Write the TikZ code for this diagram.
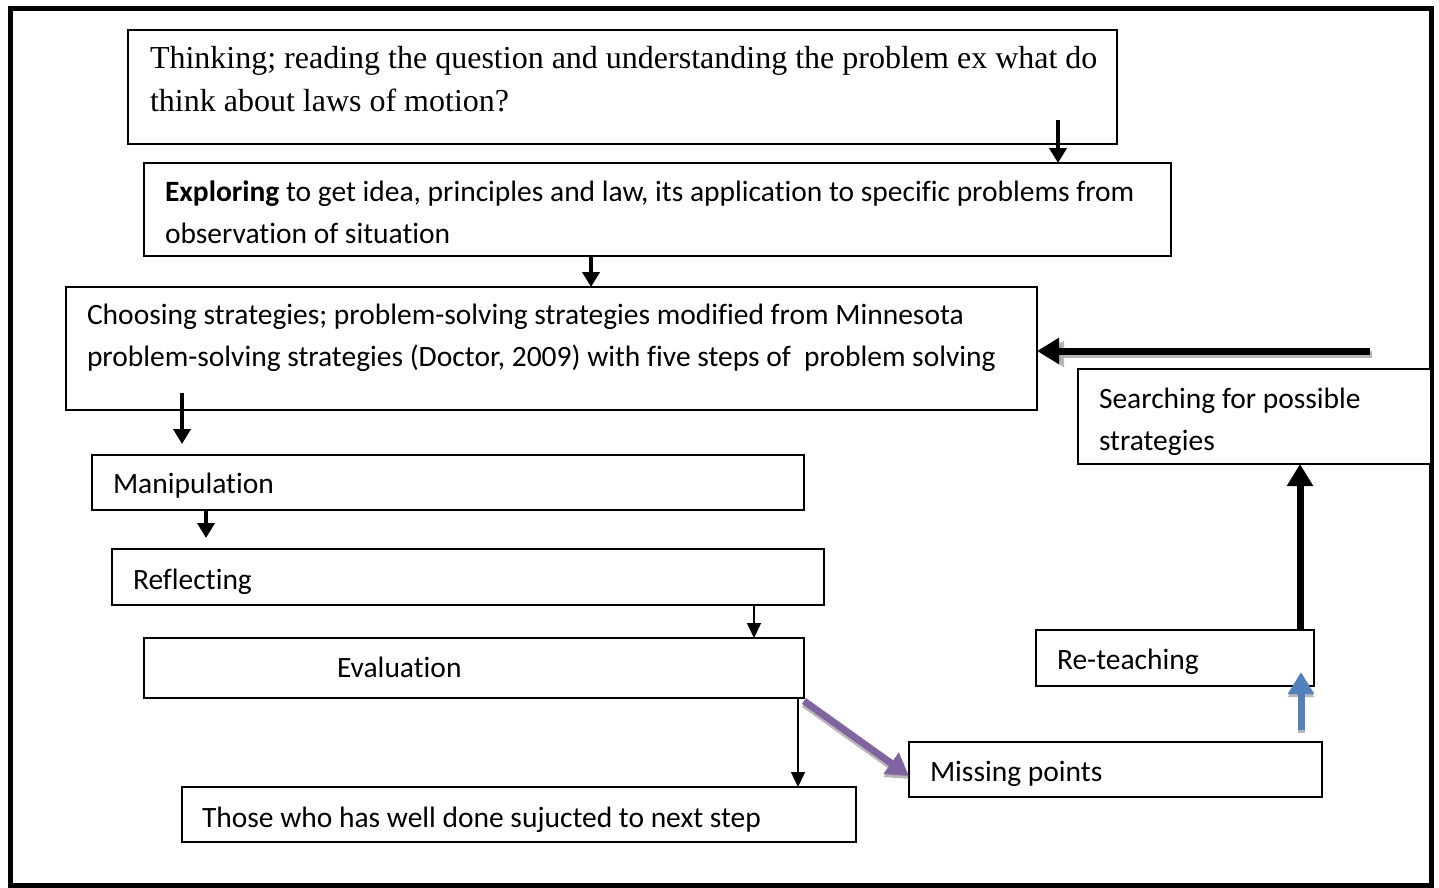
\documentclass[tikz,border=0pt]{standalone}
\usepackage{fontspec}
\setmainfont[Ligatures=NoCommon]{Carlito}
\newfontfamily\serifA{Liberation Serif}
\usetikzlibrary{arrows.meta,calc}
\definecolor{arrpurple}{HTML}{8064A2}
\definecolor{arrblue}{HTML}{4F81BD}
\definecolor{shadowgray}{HTML}{A6A6A6}
\tikzset{
  box/.style={draw=black, line width=1.6pt, inner sep=0pt, outer sep=0pt, anchor=north west, fill=white},
  txt/.style={anchor=base west, inner sep=0pt, outer sep=0pt, align=left, font=\fontsize{29.5}{42}\selectfont},
  serif/.style={anchor=base west, inner sep=0pt, outer sep=0pt, align=left, font=\serifA\fontsize{32}{43}\selectfont},
  medarrow/.style={line width=4pt, -{Triangle[width=17pt,length=15pt]}},
  thinarrow/.style={line width=1.5pt, -{Triangle[width=14pt,length=15pt]}},
  bigarrow/.style={line width=7pt, -{Triangle[width=25pt,length=22pt]}},
  shade/.style={draw=shadowgray, line width=7pt, -{Triangle[width=25pt,length=22pt]}, opacity=0.8}
}
\begin{document}
\begin{tikzpicture}[x=1pt,y=-1pt]
\useasboundingbox (0,0) rectangle (1439,888);
\fill[white] (0,0) rectangle (1439,888);
\draw[line width=5pt] (10,9) rectangle (1431,885);

% boxes
\node[box, minimum width=989pt, minimum height=114pt] (think) at (128,30) {};
\node[box, minimum width=1027pt, minimum height=93pt] (explore) at (144,163) {};
\node[box, minimum width=971pt, minimum height=123pt] (choose) at (66,287) {};
\node[box, minimum width=353pt, minimum height=95pt] (search) at (1078,369) {};
\node[box, minimum width=712pt, minimum height=55pt] (manip) at (92,455) {};
\node[box, minimum width=712pt, minimum height=56pt] (reflect) at (112,549) {};
\node[box, minimum width=660pt, minimum height=60pt] (eval) at (144,638) {};
\node[box, minimum width=278pt, minimum height=56pt] (reteach) at (1036,630) {};
\node[box, minimum width=413pt, minimum height=55pt] (missing) at (909,742) {};
\node[box, minimum width=674pt, minimum height=55pt] (those) at (182,787) {};

% texts (base anchor = baseline of last line)
\node[serif] (thinkT) at (150,112) {Thinking; reading the question and understanding the problem ex what do\\think about laws of motion?};
\node[txt] (exploreT) at (165,243) {\textbf{Exploring} to get idea, principles and law, its application to specific problems from\\observation of situation};
\node[txt] (chooseT) at (87,366) {Choosing strategies; problem-solving strategies modified from Minnesota\\problem-solving strategies (Doctor, 2009) with five steps of\ \ problem solving};
\node[txt] (searchT) at (1099,450) {Searching for possible\\strategies};
\node[txt] (manipT) at (113,493) {Manipulation};
\node[txt] (reflectT) at (133,589) {Reflecting};
\node[txt] (evalT) at (337,677) {Evaluation};
\node[txt] (reteachT) at (1057,669) {Re-teaching};
\node[txt] (missingT) at (930,781) {Missing points};
\node[txt] (thoseT) at (202,827) {Those who has well done sujucted to next step};

% free ends
\coordinate (a1) at (1058,120);
\coordinate (a2) at (591,256);
\coordinate (a3) at (182,393);
\coordinate (a4) at (206,510);
\coordinate (a5) at (754,605);
\coordinate (a6) at (798,698);
\coordinate (p1) at (804,701);
\coordinate (p2) at (909,776);
\coordinate (b1) at (1301,730);
\coordinate (b2) at (1301,672);
\coordinate (u1) at (1300,630);
\coordinate (l1) at (1370,351);

% arrows
\draw[medarrow] (a1) -- (explore.north -| a1);
\draw[medarrow] (a2) -- (choose.north -| a2);
\draw[medarrow] (a3) -- ($(manip.north -| a3)+(0,-11)$);
\draw[medarrow] (a4) -- ($(reflect.north -| a4)+(0,-11)$);
\draw[thinarrow] (a5) -- (eval.north -| a5);
\draw[thinarrow] (a6) -- (those.north -| a6);

% shadows
\draw[shade] ($(l1)+(2,3)$) -- ($(choose.east |- l1)+(5,3)$);
\draw[shade] ($(p1)+(0,3)$) -- ($(p2)+(0,3)$);
\draw[shade] ($(b1)+(0,3)$) -- ($(b2)+(0,3)$);

\draw[bigarrow] (l1) -- (choose.east |- l1);
\draw[bigarrow] (u1) -- (search.south -| u1);
\draw[bigarrow, draw=arrpurple] (p1) -- (p2);
\draw[bigarrow, draw=arrblue] (b1) -- (b2);
\end{tikzpicture}
\end{document}
